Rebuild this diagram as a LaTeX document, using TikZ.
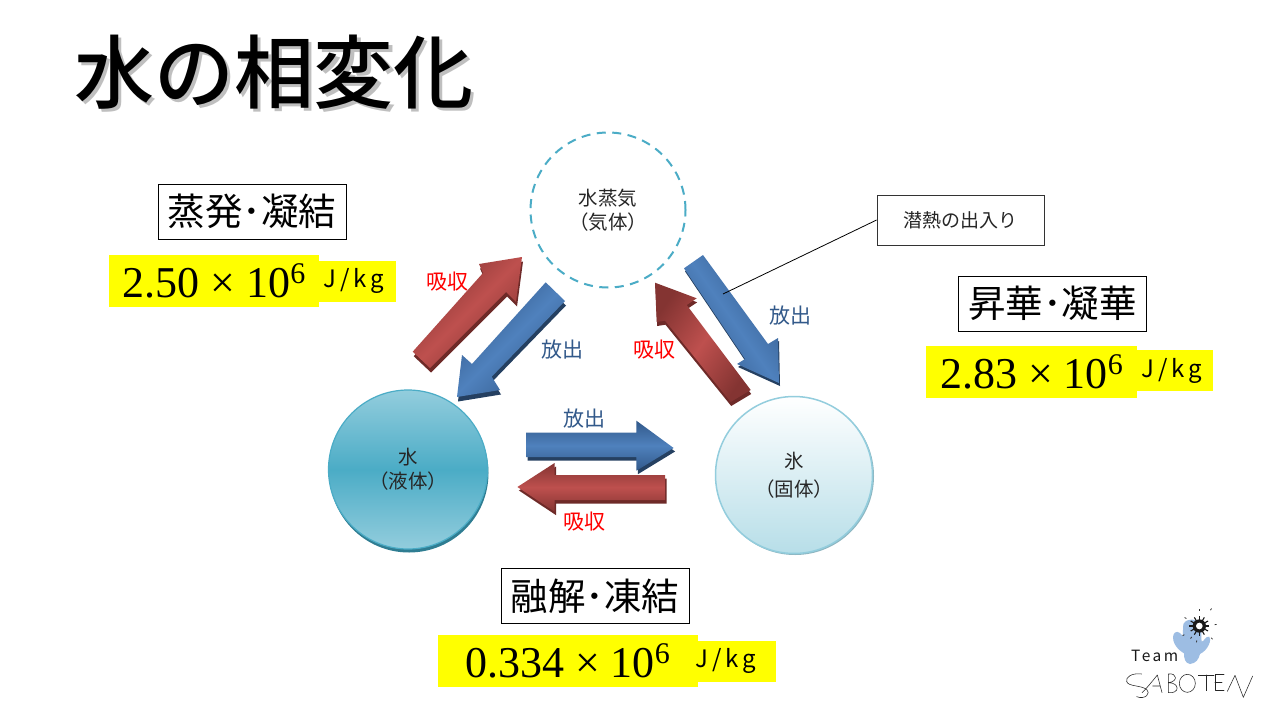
\documentclass[tikz,border=0pt]{standalone}
\usepackage{fontspec}
\setmainfont{Liberation Sans}
\newfontfamily\cjk{Noto Sans CJK JP}
\newfontfamily\cjkbold{Noto Sans CJK JP Medium}
\newfontfamily\cjkunit[LetterSpace=16]{Noto Sans CJK JP}
\newfontfamily\numfont{Liberation Serif}
\definecolor{redD}{HTML}{843432}
\definecolor{redL}{HTML}{BE504E}
\definecolor{redS}{HTML}{6E2A28}
\definecolor{bluD}{HTML}{32598A}
\definecolor{bluL}{HTML}{4F81BD}
\definecolor{bluS}{HTML}{254061}
\definecolor{tealM}{HTML}{4BACC6}
\definecolor{tealL}{HTML}{93CDDD}
\definecolor{tealS}{HTML}{2F7D92}
\definecolor{iceB}{HTML}{B7DEE8}
\definecolor{logoB}{HTML}{9DBDE3}
\definecolor{pureY}{HTML}{FFFF00}
\definecolor{pureR}{HTML}{FF0000}
\newcommand{\valtext}[2]{{\numfont #1\hspace{11pt}×\hspace{11pt}10\raisebox{14pt}{\fontsize{30}{30}\selectfont #2}}}
% #1 shade style, #2 shadow colour, #3 shadow shift, #4 outline
\newcommand{\fatarrow}[4]{\fill[#2,shift={(#3)}] #4; \shade[#1] #4;}
\tikzset{
  redface/.style={left color=redD,right color=redD,middle color=redL,shading angle=#1},
  blueface/.style={left color=bluD,right color=bluD,middle color=bluL,shading angle=#1},
  titlebox/.style={draw=black,line width=0.8pt,fill=white,minimum width=188pt,minimum height=55pt,inner sep=0pt,font=\cjk\fontsize{37.5}{37.5}\selectfont},
  numbox/.style={fill=pureY,inner sep=0pt,minimum height=52pt,font=\fontsize{44}{44}\selectfont},
  unitbox/.style={fill=pureY,inner sep=0pt,minimum height=41pt,font=\cjkunit\fontsize{24}{24}\selectfont},
  redlabel/.style={text=pureR,font=\cjk\fontsize{21}{21}\selectfont,inner sep=0pt},
  bluelabel/.style={text=bluD,font=\cjk\fontsize{21}{21}\selectfont,inner sep=0pt},
  statelabel/.style={text=black!85,align=center,font=\cjk\fontsize{19.5}{24}\selectfont,inner sep=0pt},
  logoline/.style={draw=black!85,line width=0.55pt,line cap=round,line join=round}
}
\begin{document}
\begin{tikzpicture}[x=1pt,y=-1pt]
\useasboundingbox (0,0) rectangle (1280,720);
\fill[white] (0,0) rectangle (1280,720);
% title
\node[text=black!25,inner sep=0pt,font=\cjkbold\fontsize{80}{80}\selectfont] (titleshadow) at (277,75) {水の相変化};
\node[text=black,inner sep=0pt,font=\cjkbold\fontsize{80}{80}\selectfont] (title) at (274,72) {水の相変化};
% circles
\fill[tealS] (409,473) circle (79.5);
\node[circle,draw=tealM,line width=1.2pt,top color=tealL,bottom color=tealL,middle color=tealM,minimum size=159pt,inner sep=0pt,statelabel] (water) at (408,469.5) {水\\（液体）};
\fill[tealL!70!gray] (795,476) circle (79);
\node[circle,draw=tealL,line width=1.5pt,top color=white,bottom color=iceB,minimum size=157pt,inner sep=0pt,statelabel,font=\cjk\fontsize{19.5}{28}\selectfont] (ice) at (794,475) {氷\\（固体）};
\node[circle,draw=tealM,line width=2pt,dash pattern=on 9pt off 6.5pt,minimum size=155pt,inner sep=0pt,statelabel] (vapor) at (608,210) {水蒸気\\（気体）};
% arrows
\fatarrow{redface=45}{redS}{1,4.5}{(412.7,351.7) -- (430,368) -- (506,292) -- (516,302) -- (522,257) -- (479,264) -- (483,273) -- cycle}
\fatarrow{blueface=45}{bluS}{1,4.5}{(545.7,282.3) -- (565,301) -- (491.7,376.7) -- (500,390) -- (457,397) -- (462,355) -- (472,364) -- cycle}
\fatarrow{blueface=-55}{bluS}{1,3}{(684,268.3) -- (703,255) -- (768,344) -- (778,338) -- (779,383) -- (737,364) -- (745,359) -- cycle}
\fatarrow{redface=55}{redS}{0.5,4}{(655,282.7) -- (696.7,298.3) -- (686.7,305) -- (750.7,390) -- (730.7,402) -- (665,320.7) -- (656.7,322) -- cycle}
\fatarrow{blueface=0}{bluS}{1.5,3.5}{(526,432.7) -- (636.4,432.7) -- (636.4,420.7) -- (673.6,448) -- (636.4,470.7) -- (636.4,457) -- (526,457) -- cycle}
\fatarrow{redface=0}{redS}{1.5,3.5}{(665,475) -- (665,500) -- (554.6,500) -- (554.6,511.7) -- (517.4,487) -- (554.6,463) -- (554.6,475) -- cycle}
\coordinate (blueanchor) at (723,294);
% flow labels
\node[redlabel] (abs1) at (447,282) {吸収};
\node[bluelabel] (rel1) at (562,350) {放出};
\node[bluelabel] (rel2) at (790,316) {放出};
\node[redlabel] (abs2) at (654,350) {吸収};
\node[bluelabel] (rel3) at (584,419) {放出};
\node[redlabel] (abs3) at (584,522) {吸収};
% callout
\node[draw=black!80,line width=0.8pt,fill=white,minimum width=167pt,minimum height=50pt,inner sep=0pt,text=black!85,font=\cjk\fontsize{19}{19}\selectfont] (callout) at (960.5,220) {潜熱の出入り};
\draw[black,line width=0.8pt] (callout.west) -- (blueanchor);
% evaporation
\node[titlebox] (evap) at (252,211.5) {蒸発･凝結};
\node[numbox,minimum width=210pt] (evapv) at (214,281) {\valtext{2.50}{6}};
\node[unitbox,minimum width=77pt] (evapu) at (357.5,281) {\hspace{-7pt}J/kg};
% sublimation
\node[titlebox] (subl) at (1052.5,303.5) {昇華･凝華};
\node[numbox,minimum width=211pt] (sublv) at (1031.5,372) {\valtext{2.83}{6}};
\node[unitbox,minimum width=76pt] (sublu) at (1175,370.5) {\hspace{-7pt}J/kg};
% melting
\node[titlebox] (melt) at (595,596) {融解･凍結};
\node[numbox,minimum width=260pt] (meltv) at (567.5,661) {\valtext{0.334}{6}};
\node[unitbox,minimum width=78pt] (meltu) at (737,661) {\hspace{-22pt}J/kg};
% logo
\begin{scope}[shift={(1100,600)},scale=1/3]
\fill[logoB] (250,72) .. controls (262,52) and (290,55) .. (302,75) .. controls (306,95) and (302,110) .. (305,125) .. controls (312,125) and (316,108) .. (328,110) .. controls (336,118) and (325,150) .. (300,162) .. controls (296,178) and (288,190) .. (270,192) .. controls (255,190) and (252,175) .. (252,160) .. controls (235,150) and (215,130) .. (220,105) .. controls (224,92) and (238,92) .. (248,108) -- cycle;
\fill[black!90] (298,78) circle (20);
\fill[white] (298,78) circle (10);
\foreach \a in {0,30,...,330}{\draw[black!90,line width=1.1pt] (298,78) ++(\a:17) -- ++(\a:13);}
\foreach \a/\r in {-90/46,-55/58,-5/46,125/40,150/52,100/44,45/50,210/45}{\draw[black!80,line width=0.8pt] (298,78) ++(\a:\r) -- ++(\a:6);}
\node[inner sep=0pt,text=black!90,font=\cjkunit\fontsize{15.5}{15.5}\selectfont] (team) at (164,168) {Team};
\draw[logoline] (125,222) .. controls (95,218) and (76,232) .. (80,245) .. controls (86,260) and (120,255) .. (140,268) .. controls (154,280) and (135,300) .. (110,290);
\draw[logoline] (126,278) .. controls (140,265) and (160,240) .. (172,225) -- (186,278) (158,258) -- (180,258);
\draw[logoline] (205,222) -- (205,278) (205,222) .. controls (232,218) and (235,245) .. (205,248) .. controls (240,248) and (240,282) .. (205,278);
\draw[logoline] (262,250) ellipse (24 and 27);
\draw[logoline] (295,225) -- (342,225) (320,225) -- (320,272);
\draw[logoline] (372,222) -- (345,222) -- (345,272) -- (372,272) (345,246) -- (366,246);
\draw[logoline] (382,274) -- (405,226) -- (430,292) -- (458,228);
\end{scope}
\end{tikzpicture}
\end{document}
